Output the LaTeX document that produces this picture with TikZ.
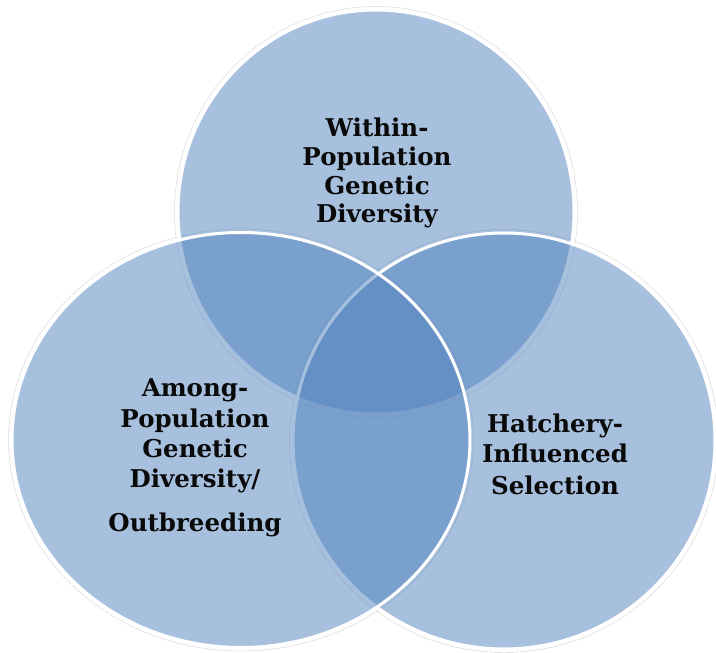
\documentclass[tikz,border=0pt]{standalone}
\usepackage{fontspec}
\newfontfamily\vennfont{DejaVu Serif}
\definecolor{vennblue}{HTML}{4F81BD}
\definecolor{venntext}{HTML}{0A0A0A}
\tikzset{
  vennset/.style={fill=vennblue, fill opacity=0.5, draw=white, line width=3pt},
  vennhalo/.style={draw=black!16, line width=0.45pt},
  vennlabel/.style={anchor=base, inner sep=0pt, text=venntext,
    font=\vennfont\bfseries\fontsize{24.5}{29}\selectfont}
}
\begin{document}
\begin{tikzpicture}[x=1pt,y=1pt]
\useasboundingbox (0,0) rectangle (716,653);
% halos
\draw[vennhalo] (376,441) ellipse [x radius=201.5, y radius=205.5];
\draw[vennhalo] (504,212) ellipse [x radius=214.5, y radius=211.5];
\draw[vennhalo] (241,213) ellipse [x radius=232.5, y radius=211];
% sets: top, right, left
\path[vennset] (376,441) ellipse [x radius=198, y radius=202];
\path[vennset] (504,212) ellipse [x radius=211, y radius=208];
\path[vennset] (241,213) ellipse [x radius=229, y radius=207.5];
% top label
\node[vennlabel] (t1) at (377,516) {Within-};
\node[vennlabel] (t2) at (377,487) {Population};
\node[vennlabel] (t3) at (377,458) {Genetic};
\node[vennlabel] (t4) at (377,430) {Diversity};
% left label
\node[vennlabel] (l1) at (195,256) {Among-};
\node[vennlabel] (l2) at (195,225) {Population};
\node[vennlabel] (l3) at (195,195) {Genetic};
\node[vennlabel] (l4) at (195,165) {Diversity/};
\node[vennlabel] (l5) at (195,121) {Outbreeding};
% right label
\node[vennlabel] (r1) at (555,220) {Hatchery-};
\node[vennlabel] (r2) at (555,190) {Influenced};
\node[vennlabel] (r3) at (555,158) {Selection};
\end{tikzpicture}
\end{document}
